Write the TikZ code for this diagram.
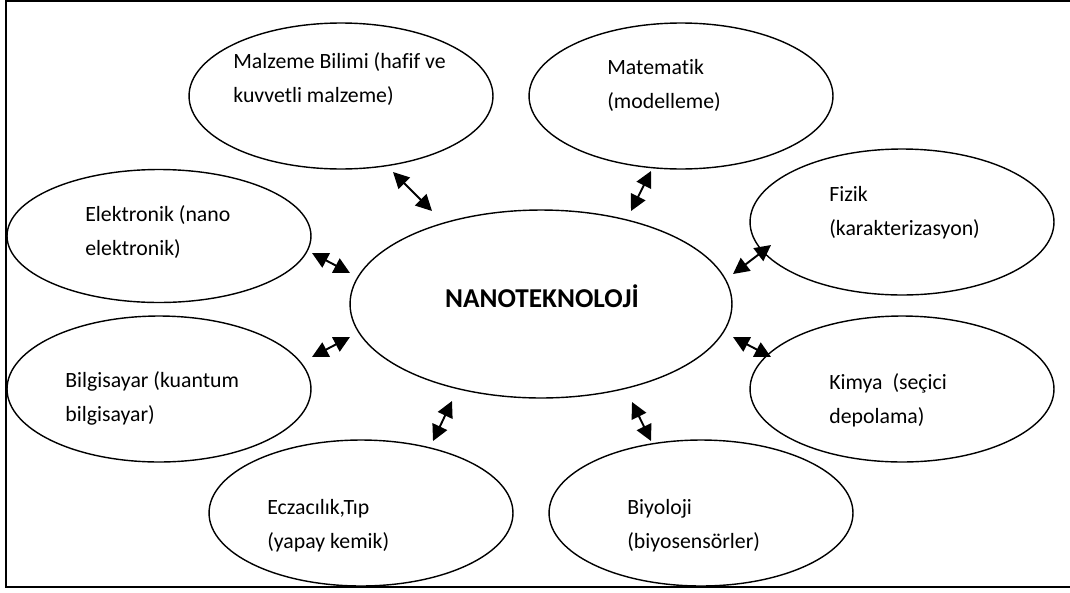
\documentclass[tikz,border=0pt]{standalone}
\usepackage{fontspec}
\setmainfont{Carlito}[Ligatures={NoCommon}]
\usetikzlibrary{shapes.geometric,arrows.meta}

\begin{document}
\begin{tikzpicture}[x = 0.02cm, y = -0.02cm,
  bubble/.style = {ellipse, draw, line width=0.8pt, inner sep=0pt,
    minimum width=6.08cm, minimum height=2.92cm},
  label/.style = {anchor=base west, align=left, inner sep=0pt,
    font=\fontsize{12.4pt}{19.3pt}\selectfont},
  link/.style = {{Triangle[length=0.32cm,width=0.32cm]}-{Triangle[length=0.32cm,width=0.32cm]},
    line width=1.1pt}]
  \useasboundingbox (0,0) rectangle (1070,592);
  \draw[line width=0.8pt] (1070,1) -- (6,1) -- (6,587) -- (1070,587);

  \node[bubble] (malzeme) at (341,96) {};
  \node[bubble] (matematik) at (681,96) {};
  \node[bubble] (fizik) at (902,222) {};
  \node[bubble, minimum height=2.66cm] (elektronik) at (159,236) {};
  \node[bubble, minimum width=7.64cm, minimum height=3.76cm] (nanoTek) at (541,304) {};
  \node[bubble] (bilgisayar) at (159,389) {};
  \node[bubble] (kimya) at (902,389) {};
  \node[bubble] (eczacilik) at (361,513) {};
  \node[bubble] (biyoloji) at (701,513) {};

  \node[label] (malzemeTxt) at (233,102) {Malzeme Bilimi (hafif ve\\kuvvetli malzeme)};
  \node[label] (matematikTxt) at (607,108) {Matematik\\(modelleme)};
  \node[label] (fizikTxt) at (829,235) {Fizik\\(karakterizasyon)};
  \node[label] (elektronikTxt) at (85,255) {Elektronik (nano\\elektronik)};
  \node[label] (bilgisayarTxt) at (65,421) {Bilgisayar (kuantum\\bilgisayar)};
  \node[label] (kimyaTxt) at (829,423) {Kimya~~(seçici\\depolama)};
  \node[label] (eczacilikTxt) at (267,548) {Eczacılık,Tıp\\(yapay kemik)};
  \node[label] (biyolojiTxt) at (627,548) {Biyoloji\\(biyosensörler)};
  \node[anchor=base, inner sep=0pt, font=\fontsize{15.5pt}{18pt}\selectfont\bfseries]
    (nanoTxt) at (542,307) {NANOTEKNOLOJİ};

  \coordinate (malzA) at (393,172);   \coordinate (malzB) at (432,211);
  \coordinate (matA) at (651,171);    \coordinate (matB) at (631,211);
  \coordinate (fizA) at (771,245);    \coordinate (fizB) at (733,274);
  \coordinate (elekA) at (312,253);   \coordinate (elekB) at (350,273);
  \coordinate (bilgA) at (312,357);   \coordinate (bilgB) at (350,337);
  \coordinate (kimA) at (771,357);    \coordinate (kimB) at (733,337);
  \coordinate (eczA) at (433,441);    \coordinate (eczB) at (452,401);
  \coordinate (biyA) at (651,441);    \coordinate (biyB) at (632,402);

  \draw[link] (malzA) -- (malzB);
  \draw[link] (matA) -- (matB);
  \draw[link] (fizA) -- (fizB);
  \draw[link] (elekA) -- (elekB);
  \draw[link] (bilgA) -- (bilgB);
  \draw[link] (kimA) -- (kimB);
  \draw[link] (eczA) -- (eczB);
  \draw[link] (biyA) -- (biyB);
\end{tikzpicture}
\end{document}
